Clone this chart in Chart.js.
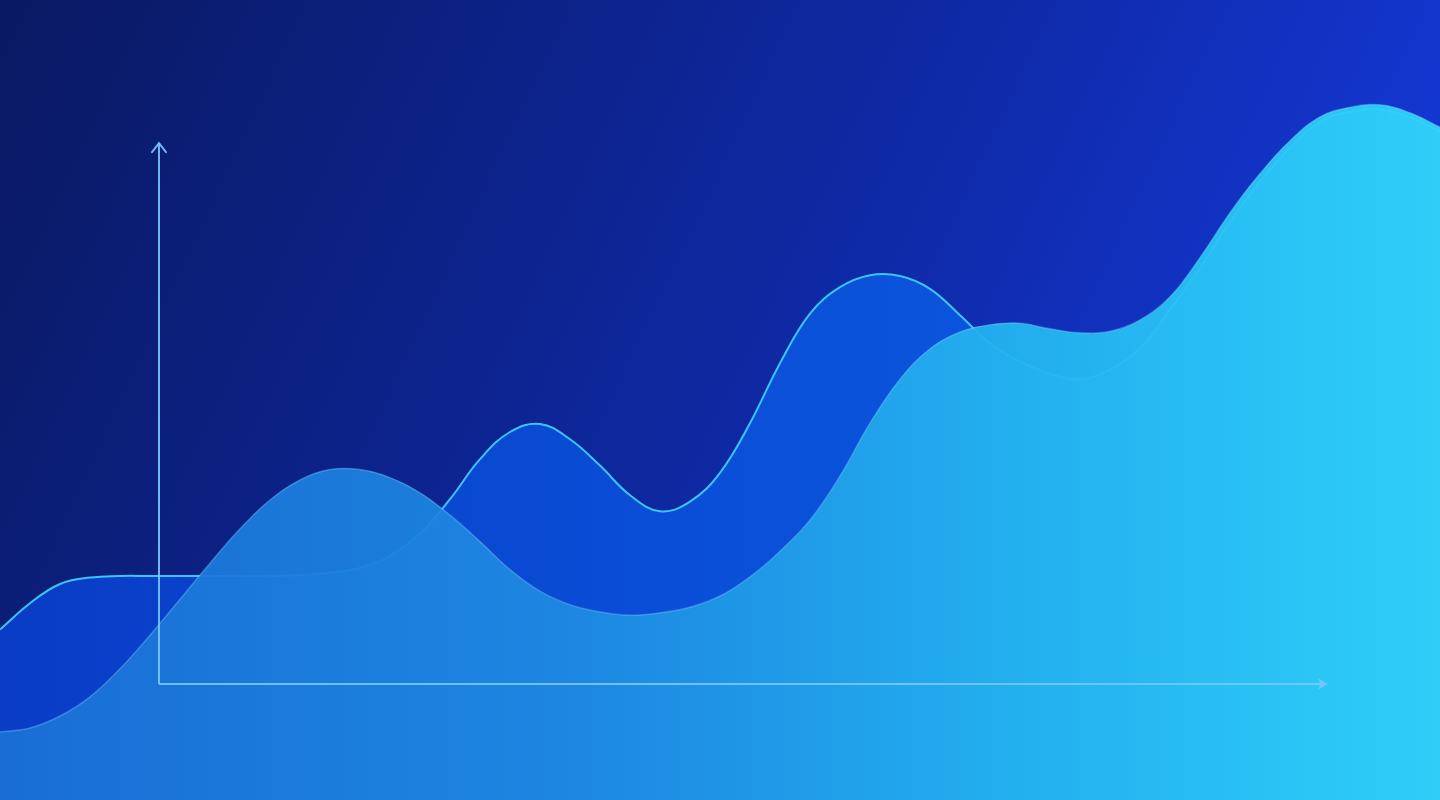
<!DOCTYPE html>
<html>
<head>
<meta charset="utf-8">
<script src="https://cdn.jsdelivr.net/npm/chart.js@4"></script>
<style>
  html, body { margin: 0; padding: 0; }
  body {
    width: 1440px;
    height: 800px;
    overflow: hidden;
    background: linear-gradient(115deg, #0a1962 0%, #0c2288 30%, #0f2aa8 55%, #1335cc 80%, #1842e6 100%);
  }
  #wrap { position: relative; width: 1440px; height: 800px; }
</style>
</head>
<body>
<div id="wrap"><canvas id="waveChart"></canvas></div>
<script>
// data (x: 0..24, y: 0..100), half-step samples
const steps = [0, 0.5, 1, 1.5, 2, 2.5, 3, 3.5, 4, 4.5, 5, 5.5, 6, 6.5, 7, 7.5, 8, 8.5, 9, 9.5, 10, 10.5, 11, 11.5, 12, 12.5, 13, 13.5, 14, 14.5, 15, 15.5, 16, 16.5, 17, 17.5, 18, 18.5, 19, 19.5, 20, 20.5, 21, 21.5, 22, 22.5, 23, 23.5, 24];
const frontValues = [8.5, 9.0, 10.5, 12.9, 16.4, 20.6, 25.1, 29.6, 33.9, 37.5, 40.0, 41.3, 41.3, 40.3, 38.4, 35.6, 32.3, 28.8, 26.1, 24.4, 23.5, 23.1, 23.4, 24.1, 25.5, 27.9, 31.1, 35.0, 40.5, 47.1, 52.6, 56.4, 58.5, 59.4, 59.6, 58.9, 58.4, 58.6, 60.0, 62.9, 67.8, 73.4, 78.3, 82.4, 85.4, 86.6, 86.9, 85.9, 84.1];
const backValues = [21.3, 24.6, 27.0, 27.8, 28.0, 28.0, 28.0, 28.0, 28.0, 28.0, 28.1, 28.4, 29.0, 30.5, 33.3, 37.6, 42.6, 46.0, 47.0, 45.1, 41.8, 38.1, 36.1, 37.3, 40.9, 47.1, 54.6, 60.8, 64.1, 65.6, 65.5, 63.9, 60.6, 57.1, 54.8, 53.3, 52.6, 53.8, 56.5, 61.3, 66.5, 72.3, 77.3, 81.5, 84.8, 86.0, 86.3, 85.3, 83.6];

// axis origin and arrow tips
const axisOrigin = [2.65, 14.5];
const xAxisEnd = 22.13;
const yAxisEnd = 82.1;

const toPoints = (xs, ys) => xs.map((x, i) => ({ x, y: ys[i] }));

const horizGradient = (stops) => (context) => {
  const { ctx, chartArea } = context.chart;
  if (!chartArea) return null;
  const g = ctx.createLinearGradient(chartArea.left, 0, chartArea.right, 0);
  stops.forEach(([p, c]) => g.addColorStop(p, c));
  return g;
};

const axisColor = "rgba(120, 200, 255, 0.9)";

// arrow heads at the end of the axes
const arrowPlugin = {
  id: "arrows",
  afterDatasetsDraw(chart) {
    const { ctx, scales } = chart;
    const ox = scales.x.getPixelForValue(axisOrigin[0]);
    const oy = scales.y.getPixelForValue(axisOrigin[1]);
    const xt = scales.x.getPixelForValue(xAxisEnd);
    const yt = scales.y.getPixelForValue(yAxisEnd);
    ctx.save();
    ctx.strokeStyle = axisColor;
    ctx.fillStyle = axisColor;
    ctx.lineWidth = 2;
    ctx.lineCap = "round";
    // y axis: open chevron
    ctx.beginPath();
    ctx.moveTo(ox - 7, yt + 9);
    ctx.lineTo(ox, yt);
    ctx.lineTo(ox + 7, yt + 9);
    ctx.stroke();
    // x axis: small filled head
    ctx.beginPath();
    ctx.moveTo(xt, oy);
    ctx.lineTo(xt - 10, oy - 6);
    ctx.lineTo(xt - 7, oy);
    ctx.lineTo(xt - 10, oy + 6);
    ctx.closePath();
    ctx.fill();
    ctx.restore();
  },
};

new Chart(document.getElementById("waveChart"), {
  type: "line",
  data: {
    datasets: [
      {
        label: "back",
        data: toPoints(steps, backValues),
        order: 3,
        fill: "start",
        borderColor: "#3cc6f6",
        borderWidth: 2,
        backgroundColor: horizGradient([
          [0, "#0a3cc6"],
          [0.5, "#0a4fd8"],
          [1, "#0c5ee2"],
        ]),
        pointRadius: 0,
        tension: 0.4,
      },
      {
        label: "front",
        data: toPoints(steps, frontValues),
        order: 2,
        fill: "start",
        borderColor: "rgba(130, 215, 255, 0.35)",
        borderWidth: 1.5,
        backgroundColor: horizGradient([
          [0, "rgba(26, 112, 214, 0.95)"],
          [0.4, "rgba(30, 138, 226, 0.95)"],
          [0.7, "rgba(36, 180, 240, 0.95)"],
          [1, "rgba(48, 212, 250, 0.95)"],
        ]),
        pointRadius: 0,
        tension: 0.4,
      },
      {
        label: "x-axis",
        data: [{ x: axisOrigin[0], y: axisOrigin[1] }, { x: xAxisEnd - 0.1, y: axisOrigin[1] }],
        order: 1,
        borderColor: axisColor,
        borderWidth: 2,
        pointRadius: 0,
        fill: false,
      },
      {
        label: "y-axis",
        data: [{ x: axisOrigin[0], y: axisOrigin[1] }, { x: axisOrigin[0], y: yAxisEnd }],
        order: 1,
        borderColor: axisColor,
        borderWidth: 2,
        pointRadius: 0,
        fill: false,
      },
    ],
  },
  options: {
    responsive: true,
    maintainAspectRatio: false,
    animation: false,
    layout: { padding: 0 },
    plugins: {
      legend: { display: false },
      tooltip: { enabled: false },
    },
    scales: {
      x: { type: "linear", min: 0, max: 24, display: false },
      y: { type: "linear", min: 0, max: 100, display: false },
    },
  },
  plugins: [arrowPlugin],
});
</script>
</body>
</html>
